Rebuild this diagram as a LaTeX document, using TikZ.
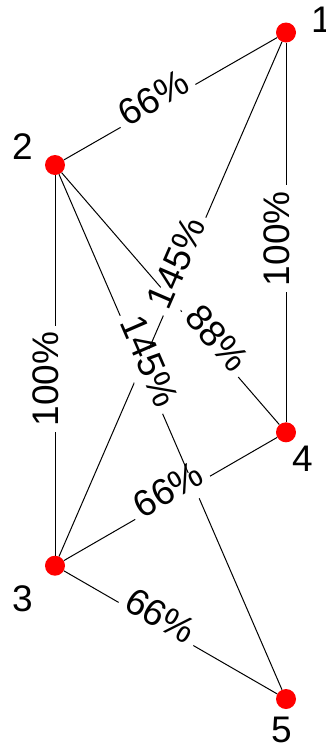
\documentclass[tikz,border=0pt]{standalone}
\usepackage{fontspec}
\setmainfont{Liberation Sans}
\begin{document}
\begin{tikzpicture}[x=1pt,y=-1pt,
  vtx/.style={circle,fill=red,draw=none,inner sep=0pt,minimum size=20pt},
  edge/.style={line width=1pt,black},
  elab/.style={fill=white,inner xsep=6pt,inner ysep=8pt,text height=0.9em,text depth=0.22em,font=\fontsize{37}{44}\selectfont},
  nlab/.style={inner sep=0pt,font=\fontsize{37}{44}\selectfont}]
\useasboundingbox (0,0) rectangle (326,747);
% vertices
\node[vtx] (v1) at (286,32.5) {};
\node[vtx] (v2) at (55,165) {};
\node[vtx] (v3) at (55,565.7) {};
\node[vtx] (v4) at (286,432.3) {};
\node[vtx] (v5) at (286,699) {};
% edges
\draw[edge] (v2) -- (v1);
\draw[edge] (v1) -- (v3);
\draw[edge] (v1) -- (v4);
\draw[edge] (v2) -- (v3);
\draw[edge] (v2) -- (v4);
\draw[edge] (v2) -- (v5);
\draw[edge] (v3) -- (v4);
\draw[edge] (v3) -- (v5);
% edge labels
\path (v2.center) -- (v1.center) node[elab,pos=0.446,rotate=29.9] (e12) {66\%};
\path (v1.center) -- (v3.center) node[elab,pos=0.439,rotate=66.6] (e13) {145\%};
\path (v1.center) -- (v4.center) node[elab,pos=0.516,rotate=90] (e14) {100\%};
\path (v2.center) -- (v3.center) node[elab,pos=0.534,rotate=90] (e23) {100\%};
\path (v2.center) -- (v4.center) node[elab,pos=0.671,rotate=-49.2] (e24) {88\%};
\path (v2.center) -- (v5.center) node[elab,pos=0.374,rotate=-66.6] (e25) {145\%};
\path (v3.center) -- (v4.center) node[elab,pos=0.509,rotate=30] (e34) {66\%};
\path (v3.center) -- (v5.center) node[elab,pos=0.437,rotate=-30] (e35) {66\%};
% vertex names
\node[nlab,anchor=base west] (n1) at (311,32.7) {1};
\node[nlab,anchor=base] (n2) at (22.5,159.3) {2};
\node[nlab,anchor=base] (n3) at (22.5,611.5) {3};
\node[nlab,anchor=base] (n4) at (302.5,471.7) {4};
\node[nlab,anchor=base] (n5) at (281.5,742.5) {5};
\end{tikzpicture}
\end{document}
